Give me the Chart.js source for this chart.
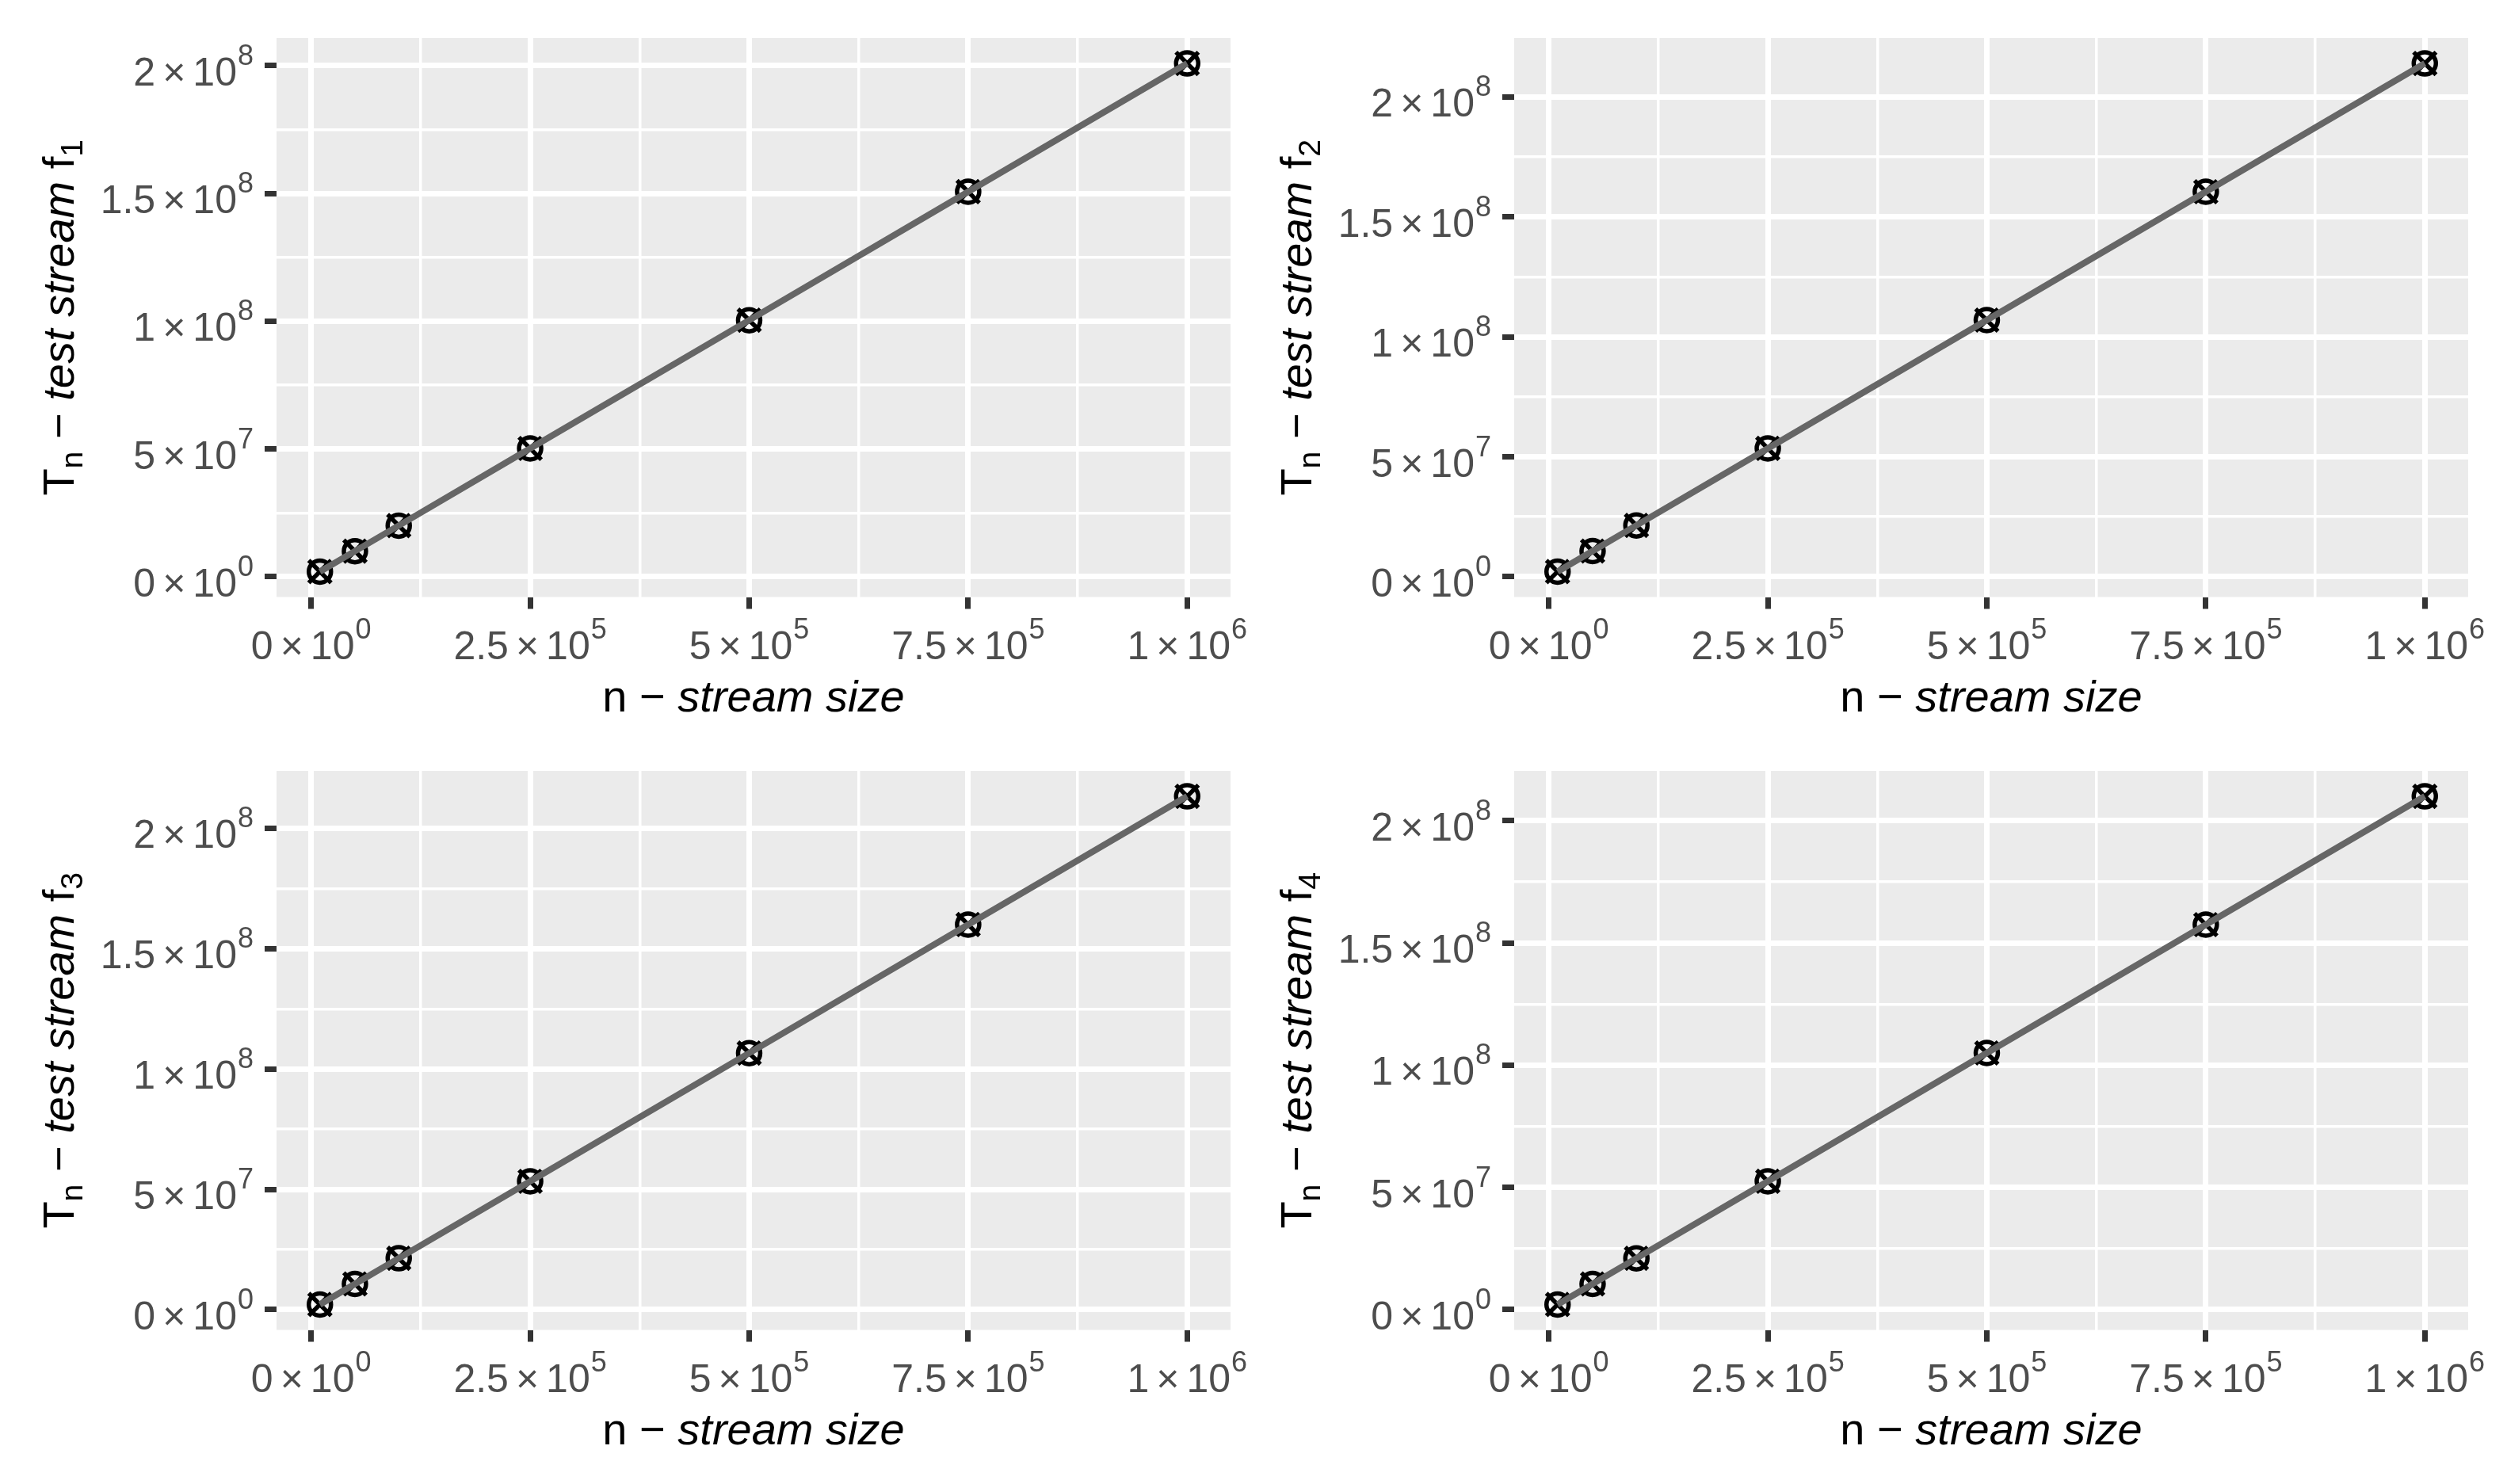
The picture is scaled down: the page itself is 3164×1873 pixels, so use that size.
<!DOCTYPE html>
<html>
<head>
<meta charset="utf-8">
<script src="https://cdn.jsdelivr.net/npm/chart.js@4.4.1/dist/chart.umd.min.js"></script>
<style>
  html, body { margin: 0; padding: 0; background: #ffffff; }
  #wrap { position: relative; width: 3164px; height: 1873px; }
  #wrap canvas { position: absolute; }
</style>
</head>
<body>
<div id="wrap">
  <canvas id="f1" width="1582" height="925" style="left:0px;top:0px"></canvas>
  <canvas id="f2" width="1582" height="925" style="left:1562px;top:0px"></canvas>
  <canvas id="f3" width="1582" height="925" style="left:0px;top:925px"></canvas>
  <canvas id="f4" width="1582" height="925" style="left:1562px;top:925px"></canvas>
</div>
<script>
// stream sizes n and the T_n values
const streamSizes = [10000, 50000, 100000, 250000, 500000, 750000, 1000000];
const testStreamF1 = [2.0e6, 1.0e7, 2.0e7, 5.02e7, 1.004e8, 1.507e8, 2.009e8];
const testStreamF2 = [2.14e6, 1.07e7, 2.14e7, 5.35e7, 1.07e8, 1.605e8, 2.14e8];
const testStreamF3 = [2.13e6, 1.067e7, 2.133e7, 5.33e7, 1.066e8, 1.6e8, 2.133e8];
const testStreamF4 = [2.1e6, 1.05e7, 2.1e7, 5.25e7, 1.05e8, 1.575e8, 2.1e8];

// major ticks carry a label "mantissa×10^exponent", minor ticks only a grid line
const xTicks = [0, 250000, 500000, 750000, 1000000];
const xTickLabels = ['0×10^0', '2.5×10^5', '5×10^5', '7.5×10^5', '1×10^6'];
const xMinorTicks = [125000, 375000, 625000, 875000];
const yTicks = [0, 5e7, 1e8, 1.5e8, 2e8];
const yTickLabels = ['0×10^0', '5×10^7', '1×10^8', '1.5×10^8', '2×10^8'];
const yMinorTicks = [2.5e7, 7.5e7, 1.25e8, 1.75e8];

const fontFamily = "'Liberation Sans', Arial, Helvetica, sans-serif";
const tickFontSize = 50;
const expFontSize = 36;
const titleFontSize = 56;

// ggplot-style 5% expansion of the data range
const expand = (values) => {
    const lo = Math.min(...values);
    const hi = Math.max(...values);
    const pad = (hi - lo) * 0.05;
    return {min: lo - pad, max: hi + pad};
};

const panelBackground = {
    id: 'panelBackground',
    beforeDraw(chart) {
        const {ctx, chartArea: a} = chart;
        ctx.save();
        ctx.fillStyle = '#EBEBEB';
        ctx.fillRect(a.left, a.top, a.right - a.left, a.bottom - a.top);
        ctx.restore();
    }
};

// label like 2.5×10^5 drawn with a raised exponent; returns pieces and total width
const layoutPowerLabel = (ctx, label) => {
    const [base, exp] = label.split('^');
    const [mant] = base.split('×');
    const gap = 9;
    ctx.font = tickFontSize + 'px ' + fontFamily;
    const wm = ctx.measureText(mant).width;
    const wx = ctx.measureText('×').width;
    const wt = ctx.measureText('10').width;
    ctx.font = expFontSize + 'px ' + fontFamily;
    const we = ctx.measureText(exp).width;
    return {mant, exp, wm, wx, wt, we, gap, width: wm + gap + wx + gap + wt + 1 + we};
};

const drawPowerLabel = (ctx, L, left, baseline) => {
    ctx.font = tickFontSize + 'px ' + fontFamily;
    let x = left;
    ctx.fillText(L.mant, x, baseline);
    x += L.wm + L.gap;
    ctx.fillText('×', x, baseline);
    x += L.wx + L.gap;
    ctx.fillText('10', x, baseline);
    x += L.wt + 1;
    ctx.font = expFontSize + 'px ' + fontFamily;
    ctx.fillText(L.exp, x, baseline - 26);
};

const tickLabels = {
    id: 'tickLabels',
    afterDraw(chart) {
        const {ctx, chartArea: a, scales} = chart;
        ctx.save();
        ctx.fillStyle = '#4D4D4D';
        ctx.textAlign = 'left';
        ctx.textBaseline = 'alphabetic';
        xTicks.forEach((v, i) => {
            const L = layoutPowerLabel(ctx, xTickLabels[i]);
            const px = scales.x.getPixelForValue(v);
            drawPowerLabel(ctx, L, px - L.width / 2, a.bottom + 78.5);
        });
        yTicks.forEach((v, i) => {
            const L = layoutPowerLabel(ctx, yTickLabels[i]);
            const py = scales.y.getPixelForValue(v);
            drawPowerLabel(ctx, L, a.left - 29 - L.width, py + 25);
        });
        ctx.restore();
    }
};

// draws a title made of runs: plain, italic or subscript pieces
const drawRuns = (ctx, runs, size) => {
    const fontFor = (r) => (r.italic ? 'italic ' : '') + (r.sub ? size * 0.7 : size) + 'px ' + fontFamily;
    let total = 0;
    runs.forEach((r) => {
        ctx.font = fontFor(r);
        r.w = ctx.measureText(r.text).width;
        total += r.w;
    });
    let x = -total / 2;
    runs.forEach((r) => {
        ctx.font = fontFor(r);
        ctx.fillText(r.text, x, r.sub ? size * 0.2 : 0);
        x += r.w;
    });
};

const axisTitles = {
    id: 'axisTitles',
    afterDraw(chart, args, opts) {
        const {ctx, chartArea: a} = chart;
        ctx.save();
        ctx.fillStyle = '#000000';
        ctx.textBaseline = 'alphabetic';
        ctx.textAlign = 'left';

        ctx.save();
        ctx.translate((a.left + a.right) / 2, a.bottom + 144.5);
        drawRuns(ctx, [
            {text: 'n − '},
            {text: 'stream size', italic: true},
        ], titleFontSize);
        ctx.restore();

        ctx.save();
        ctx.translate(93, (a.top + a.bottom) / 2);
        ctx.rotate(-Math.PI / 2);
        drawRuns(ctx, [
            {text: 'T'},
            {text: 'n', sub: true},
            {text: ' − '},
            {text: 'test stream', italic: true},
            {text: ' f'},
            {text: String(opts.index), sub: true},
        ], titleFontSize);
        ctx.restore();

        ctx.restore();
    }
};

const gridStyle = (majors) => ({
    color: '#FFFFFF',
    lineWidth: (c) => (c.tick && majors.includes(c.tick.value) ? 7 : 3.5),
    tickLength: 15,
    tickWidth: 7,
    tickColor: (c) => (c.tick && majors.includes(c.tick.value) ? '#333333' : 'rgba(0,0,0,0)'),
});

const makePanel = (canvasId, values, index) => {
    const points = streamSizes.map((n, i) => ({x: n, y: values[i]}));
    const xRange = expand(streamSizes);
    const yRange = expand(values);

    return new Chart(document.getElementById(canvasId), {
        type: 'scatter',
        data: {
            datasets: [
                {
                    data: points,
                    showLine: true,
                    borderColor: '#666666',
                    borderWidth: 8,
                    pointRadius: 0,
                    order: 0,
                },
                {
                    data: points,
                    pointStyle: 'circle',
                    pointRadius: 14,
                    borderWidth: 5.5,
                    borderColor: '#000000',
                    backgroundColor: 'rgba(0,0,0,0)',
                    order: 1,
                },
                {
                    data: points,
                    pointStyle: 'crossRot',
                    pointRadius: 20,
                    borderWidth: 5.5,
                    borderColor: '#000000',
                    order: 2,
                },
            ],
        },
        options: {
            responsive: false,
            animation: false,
            layout: {
                padding: {top: 48, right: 29, left: 0, bottom: 0},
            },
            scales: {
                x: {
                    type: 'linear',
                    min: xRange.min,
                    max: xRange.max,
                    afterBuildTicks: (scale) => {
                        scale.ticks = [...xTicks, ...xMinorTicks].sort((a, b) => a - b).map((v) => ({value: v}));
                    },
                    afterFit: (scale) => {
                        scale.height = 171.5;
                    },
                    border: {display: false},
                    grid: gridStyle(xTicks),
                    ticks: {display: false, autoSkip: false, maxRotation: 0},
                },
                y: {
                    type: 'linear',
                    min: yRange.min,
                    max: yRange.max,
                    afterBuildTicks: (scale) => {
                        scale.ticks = [...yTicks, ...yMinorTicks].sort((a, b) => a - b).map((v) => ({value: v}));
                    },
                    afterFit: (scale) => {
                        scale.width = 349;
                    },
                    border: {display: false},
                    grid: gridStyle(yTicks),
                    ticks: {display: false, autoSkip: false},
                },
            },
            plugins: {
                legend: {display: false},
                tooltip: {enabled: false},
                axisTitles: {index: index},
            },
        },
        plugins: [panelBackground, tickLabels, axisTitles],
    });
};

makePanel('f1', testStreamF1, 1);
makePanel('f2', testStreamF2, 2);
makePanel('f3', testStreamF3, 3);
makePanel('f4', testStreamF4, 4);
</script>
</body>
</html>
